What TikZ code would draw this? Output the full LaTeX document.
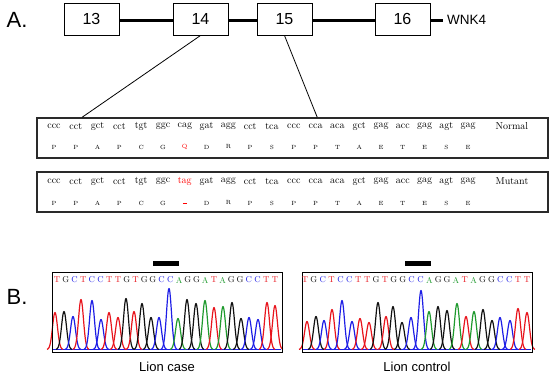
\documentclass[tikz,border=0pt]{standalone}
\usepackage{fontspec}
\newfontfamily\arialfont{Liberation Sans}
\usetikzlibrary{calc}
\definecolor{baseT}{HTML}{E8141C}
\definecolor{baseG}{HTML}{111111}
\definecolor{baseC}{HTML}{1E1EE6}
\definecolor{baseA}{HTML}{1F9A2E}
\definecolor{boxline}{HTML}{2A2A2A}

\begin{document}
\begin{tikzpicture}[x=1pt, y=-1pt,
    every node/.style={inner sep=0pt},
    exon/.style={draw, line width=1pt, fill=white, minimum width=55pt, minimum height=32pt,
                 font=\arialfont\fontsize{16}{16}\selectfont},
    panel/.style={font=\arialfont\fontsize{22}{22}\selectfont},
    seqbox/.style={draw=boxline, line width=1.6pt, minimum width=511pt, minimum height=40pt},
    codon/.style={font=\fontsize{10}{10}\selectfont},
    amino/.style={font=\fontsize{6}{6}\selectfont},
    chrom/.style={draw, line width=1pt, minimum width=230pt, minimum height=80pt},
    bar/.style={fill=black, minimum width=26pt, minimum height=5pt},
    base/.style={font=\fontsize{8.5}{8.5}\selectfont},
    trace/.style={line width=1.2pt, line join=round},
    lbl/.style={font=\arialfont\fontsize{13}{13}\selectfont}
]
    \useasboundingbox (0,0) rectangle (550,375);

    % A. exon map
    \node[panel] (pa) at (17,20) {A.};
    \draw[line width=3pt] (91,20) -- (443,20);
    \node[exon] (e13) at (91.5,19) {13};
    \node[exon] (e14) at (200.5,19) {14};
    \node[exon] (e15) at (284.5,19) {15};
    \node[exon] (e16) at (402.5,19) {16};
    \node[anchor=west, font=\arialfont\fontsize{13.5}{14}\selectfont] (gene) at (447,20) {WNK4};

    % sequence frames
    \node[seqbox] (norm) at (292.5,138) {};
    \node[seqbox] (mut)  at (292.5,192) {};
    \draw[line width=0.8pt] (e14.south) -- ($(norm.north west)+(46,0)$);
    \draw[line width=0.8pt] (e15.south) -- ($(norm.north west)+(281,0)$);

    \foreach \cd/\aa [count=\i from 0] in {ccc/P,cct/P,gct/A,cct/P,tgt/C,ggc/G,cag/Q,gat/D,agg/R,cct/P,
                                          tca/S,ccc/P,cca/P,aca/T,gct/A,gag/E,acc/T,gag/E,agt/S,gag/E} {
        \node[codon] (nc\i) at ({54+21.8*\i},126) {\cd};
        \ifnum\i=6
            \node[amino, text=red] (na\i) at ({54+21.8*\i},147) {\aa};
            \node[codon, text=red] (mc\i) at ({54+21.8*\i},181) {tag};
            \node[amino, text=red] (ma\i) at ({54+21.8*\i},203) {\rule{4pt}{1pt}};
        \else
            \node[amino] (na\i) at ({54+21.8*\i},147) {\aa};
            \node[codon] (mc\i) at ({54+21.8*\i},181) {\cd};
            \node[amino] (ma\i) at ({54+21.8*\i},203) {\aa};
        \fi
    }
    \node[codon] (nlab) at (512,126) {Normal};
    \node[codon] (mlab) at (512,181) {Mutant};

    % B. chromatograms
    \node[panel] (pb) at (17,297) {B.};
    \node[bar] (bar1) at (166,263.5) {};
    \node[bar] (bar2) at (417.5,263.5) {};

    \foreach \c in {baseA,baseG,baseT,baseC} {
        \draw[\c, line width=0.8pt] (53,349.5) -- (281,349.5);
        \draw[\c, line width=0.8pt] (303,349.5) -- (531,349.5);
    }
    \foreach \px/\ph/\pc in {55/37/baseT,64/38/baseG,73/33/baseC,81/50/baseT,92/49/baseC,101/30/baseC,
                             109/37/baseT,118/32/baseT,126/51/baseG,134/38/baseT,142/46/baseG,151/32/baseG,
                             159/32/baseC,169/61/baseC,178/31/baseA,187/50/baseG,196/46/baseG,205/49/baseA,
                             214/42/baseT,223/43/baseA,232/47/baseG,241/31/baseG,249/32/baseC,258/30/baseC,
                             267/47/baseT,275/44/baseT} {
        \draw[trace, \pc] plot[domain=\px-8:\px+8, samples=33, smooth] (\x, {349.5-\ph*exp(-((\x-\px)/3.5)^2)});
    }
    \foreach \px/\ph/\pc in {307/28/baseT,316/33/baseG,324/29/baseC,332/40/baseT,342/49/baseC,352/28/baseC,
                             360/31/baseT,369/27/baseT,378/47/baseG,386/33/baseT,393/43/baseG,402/27/baseG,
                             411/32/baseC,421/59/baseC,429/38/baseA,438/43/baseG,447/39/baseG,457/46/baseA,
                             466/33/baseT,474/38/baseA,483/40/baseG,492/29/baseG,500/32/baseC,510/29/baseC,
                             518/41/baseT,527/37/baseT} {
        \draw[trace, \pc] plot[domain=\px-8:\px+8, samples=33, smooth] (\x, {349.5-\ph*exp(-((\x-\px)/3.5)^2)});
    }

    \node[chrom] (case) at (167,312) {};
    \node[chrom] (ctrl) at (417,312) {};

    \foreach \b [count=\i from 0] in {T,G,C,T,C,C,T,T,G,T,G,G,C,C,A,G,G,A,T,A,G,G,C,C,T,T} {
        \node[base, text=base\b] (cb\i) at ({57+8.72*\i},280) {\b};
        \node[base, text=base\b] (tb\i) at ({305+8.88*\i},280) {\b};
    }

    \node[lbl] (casel) at (167,367) {Lion case};
    \node[lbl] (ctrll) at (417,367) {Lion control};
\end{tikzpicture}
\end{document}
